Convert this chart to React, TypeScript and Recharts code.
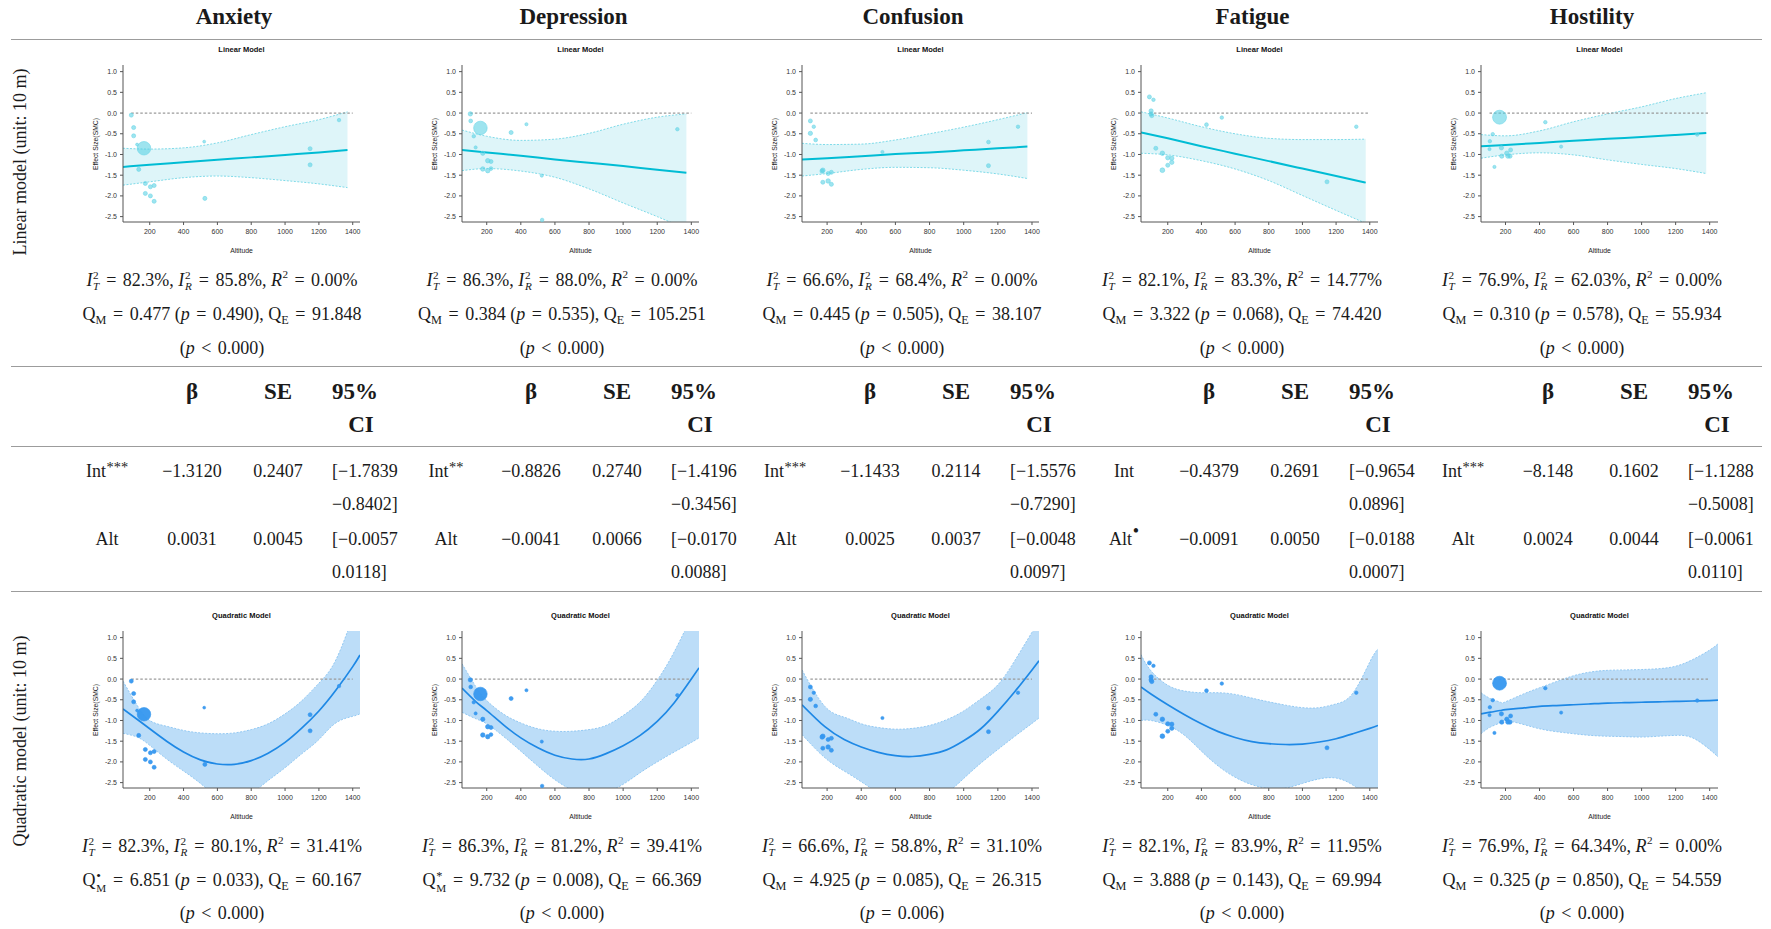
import React from 'react';
import { ComposedChart, Area, Line, Scatter, XAxis, YAxis, ZAxis } from 'recharts';

// ---------- labels ----------
const OUTCOMES = ['Anxiety', 'Depression', 'Confusion', 'Fatigue', 'Hostility'];
const ROW_LABELS = ['Linear model (unit: 10 m)', 'Quadratic model (unit: 10 m)'];
const X_TICKS = [200, 400, 600, 800, 1000, 1200, 1400];
const Y_TICKS = [-2.5, -2, -1.5, -1, -0.5, 0, 0.5, 1];
const Y_DOMAIN = [-2.63, 1.16];
const X_DOMAINS = [[42, 1443], [55, 1445], [53, 1441], [41, 1449], [56, 1449]];
const ZERO_FROM = [91, 104, 102, 91, 106];
const ZERO_TO = [1400, 1400, 1400, 1400, 1400];

// ---------- study points (altitude, effect size, weight) ----------
const ANX_ALT = [91, 105, 105, 125, 166, 135, 174, 226, 204, 174, 204, 226, 522, 526, 1148, 1148, 1319];
const ANX_ES = [-0.05, -0.35, -0.55, -0.76, -0.85, -1.36, -1.7, -1.75, -1.78, -1.94, -2.0, -2.13, -0.69, -2.06, -0.86, -1.25, -0.17];
const ANX_W = [0.8, 0.8, 0.8, 0.4, 9, 0.8, 0.8, 0.8, 0.8, 0.8, 0.8, 0.8, 0.4, 0.8, 0.8, 0.8, 0.6];

const DEP_ALT = [104, 106, 124, 135, 163, 177, 177, 206, 225, 206, 225, 343, 433, 523, 525, 1318];
const DEP_ES = [-0.02, -0.19, -0.56, -0.83, -0.36, -0.97, -1.35, -1.15, -1.17, -1.39, -1.34, -0.47, -0.27, -1.51, -2.58, -0.39];
const DEP_W = [0.9, 0.7, 0.6, 0.5, 9, 0.9, 1.0, 1.0, 0.8, 1.0, 0.7, 0.8, 0.5, 0.5, 0.6, 0.6];

const CON_ALT = [102, 122, 102, 133, 524, 175, 171, 175, 206, 225, 206, 225, 1145, 1145, 1318];
const CON_ES = [-0.19, -0.33, -0.49, -0.65, -0.94, -1.38, -1.4, -1.67, -1.46, -1.43, -1.64, -1.72, -0.7, -1.27, -0.33];
const CON_W = [0.8, 0.6, 0.9, 0.7, 0.5, 1.0, 1.0, 0.8, 0.8, 0.8, 1.0, 0.8, 0.7, 0.8, 0.6];

const FAT_ALT = [91, 115, 101, 101, 105, 129, 168, 168, 200, 224, 200, 224, 430, 521, 1146, 1320];
const FAT_ES = [0.39, 0.32, 0.05, -0.02, -0.06, -0.85, -0.97, -1.38, -1.08, -1.09, -1.26, -1.19, -0.28, -0.11, -1.66, -0.33];
const FAT_W = [0.8, 0.6, 0.9, 0.9, 0.9, 0.8, 1.0, 1.1, 0.9, 0.9, 0.8, 0.9, 0.7, 0.6, 0.8, 0.6];

const HOS_ALT = [165, 125, 108, 106, 135, 176, 178, 208, 214, 230, 226, 434, 527, 1327];
const HOS_ES = [-0.1, -0.51, -0.68, -0.87, -1.3, -0.84, -1.04, -0.97, -1.04, -0.89, -1.04, -0.22, -0.81, -0.52];
const HOS_W = [9.5, 0.6, 0.6, 0.5, 0.5, 0.9, 0.9, 1.0, 0.9, 0.8, 0.9, 0.6, 0.5, 0.6];

// ---------- linear model fit + CI band ----------
const ANX_LIN_X = [42, 200, 400, 600, 800, 1000, 1200, 1369];
const ANX_LIN_FIT = [-1.3, -1.25, -1.19, -1.13, -1.07, -1.01, -0.95, -0.89];
const ANX_LIN_LO = [-1.74, -1.66, -1.56, -1.52, -1.56, -1.63, -1.71, -1.8];
const ANX_LIN_HI = [-0.85, -0.87, -0.84, -0.72, -0.52, -0.33, -0.16, 0.03];

const DEP_LIN_X = [55, 200, 400, 600, 800, 1000, 1200, 1371];
const DEP_LIN_FIT = [-0.89, -0.95, -1.03, -1.12, -1.2, -1.28, -1.37, -1.44];
const DEP_LIN_LO = [-1.39, -1.34, -1.4, -1.55, -1.83, -2.17, -2.5, -2.8];
const DEP_LIN_HI = [-0.41, -0.56, -0.66, -0.63, -0.49, -0.27, -0.1, -0.02];

const CON_LIN_X = [53, 200, 400, 600, 800, 1000, 1200, 1373];
const CON_LIN_FIT = [-1.12, -1.09, -1.04, -0.99, -0.95, -0.9, -0.85, -0.81];
const CON_LIN_LO = [-1.52, -1.46, -1.36, -1.31, -1.32, -1.38, -1.47, -1.58];
const CON_LIN_HI = [-0.73, -0.76, -0.75, -0.65, -0.5, -0.34, -0.16, 0.01];

const FAT_LIN_X = [41, 200, 400, 600, 800, 1000, 1200, 1376];
const FAT_LIN_FIT = [-0.47, -0.61, -0.8, -0.98, -1.16, -1.34, -1.52, -1.68];
const FAT_LIN_LO = [-0.97, -1.01, -1.15, -1.35, -1.63, -1.99, -2.35, -2.66];
const FAT_LIN_HI = [0.03, -0.12, -0.33, -0.5, -0.61, -0.64, -0.64, -0.63];

const HOS_LIN_X = [56, 200, 400, 600, 800, 1000, 1200, 1380];
const HOS_LIN_FIT = [-0.8, -0.77, -0.72, -0.67, -0.62, -0.58, -0.53, -0.48];
const HOS_LIN_LO = [-1.09, -1.01, -0.96, -1.01, -1.13, -1.24, -1.34, -1.46];
const HOS_LIN_HI = [-0.52, -0.55, -0.43, -0.21, -0.02, 0.15, 0.35, 0.49];

// ---------- quadratic model fit + CI band ----------
const ANX_Q_X = [42, 125, 200, 300, 400, 500, 600, 700, 800, 900, 1000, 1100, 1200, 1300, 1400, 1443];
const ANX_Q_FIT = [-0.72, -0.97, -1.2, -1.5, -1.76, -1.95, -2.05, -2.06, -1.97, -1.79, -1.53, -1.18, -0.77, -0.27, 0.3, 0.58];
const ANX_Q_LO = [-1.31, -1.4, -1.6, -1.93, -2.22, -2.52, -2.85, -3.0, -2.78, -2.45, -2.14, -1.8, -1.46, -1.06, -0.9, -0.84];
const ANX_Q_HI = [-0.05, -0.63, -1.0, -1.14, -1.24, -1.3, -1.32, -1.3, -1.22, -1.08, -0.84, -0.52, -0.1, 0.46, 1.5, 2.0];

const DEP_Q_X = [55, 137, 200, 300, 400, 500, 600, 700, 800, 900, 1000, 1100, 1200, 1300, 1400, 1445];
const DEP_Q_FIT = [-0.22, -0.55, -0.76, -1.11, -1.42, -1.66, -1.84, -1.93, -1.93, -1.8, -1.61, -1.36, -1.02, -0.57, 0.0, 0.27];
const DEP_Q_LO = [-0.8, -0.96, -1.08, -1.39, -1.74, -2.1, -2.43, -2.68, -2.82, -2.74, -2.54, -2.26, -2.0, -1.76, -1.53, -1.42];
const DEP_Q_HI = [0.37, -0.19, -0.52, -0.85, -1.06, -1.2, -1.26, -1.26, -1.22, -1.12, -0.88, -0.55, -0.03, 0.66, 1.5, 1.9];

const CON_Q_X = [53, 187, 300, 400, 500, 600, 700, 800, 900, 1000, 1100, 1200, 1300, 1400, 1441];
const CON_Q_FIT = [-0.62, -1.15, -1.46, -1.64, -1.77, -1.85, -1.87, -1.82, -1.71, -1.49, -1.2, -0.78, -0.3, 0.22, 0.44];
const CON_Q_LO = [-1.34, -1.9, -2.22, -2.48, -2.75, -2.98, -3.05, -2.95, -2.75, -2.4, -2.03, -1.7, -1.38, -1.07, -0.94];
const CON_Q_HI = [0.22, -0.66, -0.92, -1.08, -1.17, -1.21, -1.19, -1.12, -0.98, -0.77, -0.48, -0.14, 0.45, 1.13, 1.4];

const FAT_Q_X = [41, 100, 200, 300, 400, 500, 600, 700, 800, 900, 1000, 1100, 1200, 1300, 1400, 1449];
const FAT_Q_FIT = [-0.19, -0.36, -0.62, -0.86, -1.08, -1.27, -1.41, -1.51, -1.56, -1.58, -1.57, -1.52, -1.44, -1.32, -1.19, -1.12];
const FAT_Q_LO = [-1.0, -1.0, -1.12, -1.36, -1.74, -2.1, -2.37, -2.55, -2.64, -2.63, -2.52, -2.41, -2.39, -2.56, -2.85, -2.97];
const FAT_Q_HI = [0.59, 0.2, -0.15, -0.29, -0.33, -0.33, -0.37, -0.46, -0.55, -0.63, -0.69, -0.69, -0.6, -0.34, 0.41, 0.73];

const HOS_Q_X = [56, 111, 170, 200, 300, 400, 500, 600, 700, 800, 900, 1000, 1100, 1200, 1300, 1400, 1449];
const HOS_Q_FIT = [-0.84, -0.8, -0.76, -0.74, -0.7, -0.66, -0.64, -0.62, -0.6, -0.58, -0.57, -0.56, -0.55, -0.54, -0.53, -0.52, -0.51];
const HOS_Q_LO = [-1.32, -1.16, -1.05, -1.0, -1.09, -1.2, -1.27, -1.32, -1.36, -1.38, -1.39, -1.4, -1.38, -1.36, -1.42, -1.7, -1.88];
const HOS_Q_HI = [-0.33, -0.47, -0.56, -0.55, -0.37, -0.21, -0.06, 0.08, 0.17, 0.21, 0.22, 0.23, 0.25, 0.31, 0.47, 0.7, 0.85];

// ---------- statistics text ----------
const LIN_I2T = ['82.3%', '86.3%', '66.6%', '82.1%', '76.9%'];
const LIN_I2R = ['85.8%', '88.0%', '68.4%', '83.3%', '62.03%'];
const LIN_R2 = ['0.00%', '0.00%', '0.00%', '14.77%', '0.00%'];
const LIN_QM = ['0.477', '0.384', '0.445', '3.322', '0.310'];
const LIN_QM_P = ['0.490', '0.535', '0.505', '0.068', '0.578'];
const LIN_QM_MARK = ['', '', '', '', ''];
const LIN_QE = ['91.848', '105.251', '38.107', '74.420', '55.934'];
const LIN_QE_OP = ['<', '<', '<', '<', '<'];
const LIN_QE_P = ['0.000', '0.000', '0.000', '0.000', '0.000'];

const QUAD_I2T = ['82.3%', '86.3%', '66.6%', '82.1%', '76.9%'];
const QUAD_I2R = ['80.1%', '81.2%', '58.8%', '83.9%', '64.34%'];
const QUAD_R2 = ['31.41%', '39.41%', '31.10%', '11.95%', '0.00%'];
const QUAD_QM = ['6.851', '9.732', '4.925', '3.888', '0.325'];
const QUAD_QM_P = ['0.033', '0.008', '0.085', '0.143', '0.850'];
const QUAD_QM_MARK = ['•', '*', '', '', ''];
const QUAD_QE = ['60.167', '66.369', '26.315', '69.994', '54.559'];
const QUAD_QE_OP = ['<', '<', '=', '<', '<'];
const QUAD_QE_P = ['0.000', '0.000', '0.006', '0.000', '0.000'];

// ---------- coefficient table ----------
const TABLE_HEAD = ['β', 'SE', '95%', 'CI'];
const INT_MARK = ['***', '**', '***', '', '***'];
const ALT_MARK = ['', '', '', '•', ''];
const INT_B = ['−1.3120', '−0.8826', '−1.1433', '−0.4379', '−8.148'];
const INT_SE = ['0.2407', '0.2740', '0.2114', '0.2691', '0.1602'];
const INT_LO = ['[−1.7839', '[−1.4196', '[−1.5576', '[−0.9654', '[−1.1288'];
const INT_HI = ['−0.8402]', '−0.3456]', '−0.7290]', '0.0896]', '−0.5008]'];
const ALT_B = ['0.0031', '−0.0041', '0.0025', '−0.0091', '0.0024'];
const ALT_SE = ['0.0045', '0.0066', '0.0037', '0.0050', '0.0044'];
const ALT_LO = ['[−0.0057', '[−0.0170', '[−0.0048', '[−0.0188', '[−0.0061'];
const ALT_HI = ['0.0118]', '0.0088]', '0.0097]', '0.0007]', '0.0110]'];

// ---------- assembled per-outcome groups ----------
const POINTS = [
  [ANX_ALT, ANX_ES, ANX_W],
  [DEP_ALT, DEP_ES, DEP_W],
  [CON_ALT, CON_ES, CON_W],
  [FAT_ALT, FAT_ES, FAT_W],
  [HOS_ALT, HOS_ES, HOS_W],
];
const LIN_FITS = [
  [ANX_LIN_X, ANX_LIN_FIT, ANX_LIN_LO, ANX_LIN_HI],
  [DEP_LIN_X, DEP_LIN_FIT, DEP_LIN_LO, DEP_LIN_HI],
  [CON_LIN_X, CON_LIN_FIT, CON_LIN_LO, CON_LIN_HI],
  [FAT_LIN_X, FAT_LIN_FIT, FAT_LIN_LO, FAT_LIN_HI],
  [HOS_LIN_X, HOS_LIN_FIT, HOS_LIN_LO, HOS_LIN_HI],
];
const QUAD_FITS = [
  [ANX_Q_X, ANX_Q_FIT, ANX_Q_LO, ANX_Q_HI],
  [DEP_Q_X, DEP_Q_FIT, DEP_Q_LO, DEP_Q_HI],
  [CON_Q_X, CON_Q_FIT, CON_Q_LO, CON_Q_HI],
  [FAT_Q_X, FAT_Q_FIT, FAT_Q_LO, FAT_Q_HI],
  [HOS_Q_X, HOS_Q_FIT, HOS_Q_LO, HOS_Q_HI],
];

// ---------- layout ----------
const PLOT_W = 237;
const PLOT_H = 157;
const PANEL_X0 = 123;
const PANEL_DX = 339.4;
const LIN_TOP = 65;
const QUAD_TOP = 631;
const SANS = '"Liberation Sans", Arial, sans-serif';
const SERIF = '"Liberation Serif", "Times New Roman", serif';

const THEMES = {
  lin: {
    band: '#def5f9', bandEdge: '#7fdbe9', line: '#00bcd4', lineW: 2, curve: 'monotone',
    pt: '#4fcde2', ptOpacity: 0.55, ptStroke: '#6fd6e8', title: 'Linear Model',
  },
  quad: {
    band: '#bcddf8', bandEdge: '#93c9f3', line: '#1e88e5', lineW: 1.7, curve: 'natural',
    pt: '#3597ef', ptOpacity: 0.95, ptStroke: '#3597ef', title: 'Quadratic Model',
  },
};

function Panel({ idx, kind }: { idx: number; kind: 'lin' | 'quad' }) {
  const th = THEMES[kind];
  const [xs, fit, lo, hi] = kind === 'lin' ? LIN_FITS[idx] : QUAD_FITS[idx];
  const [alt, es, w] = POINTS[idx];
  const rows = xs.map((x, k) => ({ x, fit: fit[k], band: [lo[k], hi[k]] }));
  const pts = alt.map((x, k) => ({ x, y: es[k], w: w[k] }));
  const zero = [
    { x: ZERO_FROM[idx], z0: 0 },
    { x: ZERO_TO[idx], z0: 0 },
  ];
  const plotLeft = Math.round(PANEL_X0 + PANEL_DX * idx);
  const plotTop = kind === 'lin' ? LIN_TOP : QUAD_TOP;
  const cx = plotLeft + PLOT_W / 2;
  const tickStyle = { fontSize: 7, fill: '#333', fontFamily: SANS };
  return (
    <>
      <div style={{ position: 'absolute', left: cx - 60, width: 120, top: plotTop - 21, height: 12, lineHeight: '12px', textAlign: 'center', fontFamily: SANS, fontSize: 7.5, fontWeight: 700, color: '#111' }}>
        {th.title}
      </div>
      <div style={{ position: 'absolute', left: plotLeft - 28, top: plotTop + PLOT_H / 2, transform: 'translate(-50%,-50%) rotate(-90deg)', whiteSpace: 'nowrap', fontFamily: SANS, fontSize: 6.8, color: '#222' }}>
        Effect Size(SMC)
      </div>
      <div style={{ position: 'absolute', left: cx - 40, width: 80, top: plotTop + PLOT_H + 23, height: 12, lineHeight: '12px', textAlign: 'center', fontFamily: SANS, fontSize: 6.8, color: '#222' }}>
        Altitude
      </div>
      <div style={{ position: 'absolute', left: plotLeft - 40, top: plotTop - 5 }}>
        <ComposedChart width={282} height={182} margin={{ top: 5, right: 5, left: 10, bottom: 0 }} data={rows}>
          <XAxis type="number" dataKey="x" domain={X_DOMAINS[idx]} ticks={X_TICKS} interval={0} allowDataOverflow
            height={20} tickSize={3} tickMargin={4} tick={tickStyle} stroke="#555" tickLine={{ stroke: '#555' }} />
          <YAxis type="number" domain={Y_DOMAIN} ticks={Y_TICKS} interval={0} allowDataOverflow width={30}
            tickSize={3} tickMargin={3} tick={tickStyle} stroke="#555" tickFormatter={(v: number) => v.toFixed(1)} />
          <ZAxis type="number" dataKey="w" domain={[0, 10]} range={[0, 160]} />
          <Area dataKey="band" type={th.curve as any} fill={th.band} fillOpacity={1} stroke={th.bandEdge}
            strokeWidth={1} strokeDasharray="2 1.5" isAnimationActive={false} dot={false} activeDot={false} />
          <Line data={zero} dataKey="z0" type="linear" stroke="#9a9a9a" strokeWidth={1.2} strokeDasharray="2.5 2"
            dot={false} activeDot={false} isAnimationActive={false} />
          <Line dataKey="fit" type={th.curve as any} stroke={th.line} strokeWidth={th.lineW} dot={false} activeDot={false}
            isAnimationActive={false} />
          <Scatter data={pts} dataKey="y" fill={th.pt} fillOpacity={th.ptOpacity} stroke={th.ptStroke}
            strokeWidth={0.6} isAnimationActive={false} />
        </ComposedChart>
      </div>
    </>
  );
}

// ---------- text helpers ----------
const Stack = ({ sup, sub, subItalic, supSize }: { sup: string; sub: string; subItalic?: boolean; supSize?: string }) => (
  <span style={{ display: 'inline-flex', flexDirection: 'column', fontSize: '0.62em', lineHeight: 1, verticalAlign: supSize ? '0.5em' : '0.62em', marginLeft: '0.06em', marginRight: '0.04em', textAlign: 'left' }}>
    <span style={{ fontStyle: 'normal', fontSize: supSize || '1em', lineHeight: 1 }}>{sup}</span>
    <span style={{ fontStyle: subItalic ? 'italic' : 'normal' }}>{sub}</span>
  </span>
);
const Sup = ({ children, size, top }: { children: React.ReactNode; size?: string; top?: string }) => (
  <span style={{ fontSize: size || '0.62em', position: 'relative', top: top || '-0.72em', marginLeft: '0.04em' }}>{children}</span>
);
const Sub = ({ children }: { children: React.ReactNode }) => (
  <span style={{ fontSize: '0.68em', position: 'relative', top: '0.32em' }}>{children}</span>
);
const Op = ({ children }: { children: React.ReactNode }) => (
  <span style={{ margin: '0 2px' }}>{children}</span>
);

const Txt = ({ cx, cy, children, style }: { cx: number; cy: number; children: React.ReactNode; style?: React.CSSProperties }) => (
  <div style={{ position: 'absolute', left: cx - 250, width: 500, top: cy - 15, height: 30, lineHeight: '30px', textAlign: 'center', whiteSpace: 'nowrap', fontSize: 18, ...style }}>
    {children}
  </div>
);
const LTxt = ({ x, cy, children, style }: { x: number; cy: number; children: React.ReactNode; style?: React.CSSProperties }) => (
  <div style={{ position: 'absolute', left: x, top: cy - 15, height: 30, lineHeight: '30px', whiteSpace: 'nowrap', fontSize: 18, ...style }}>
    {children}
  </div>
);

function StatLines({ idx, kind }: { idx: number; kind: 'lin' | 'quad' }) {
  const L = kind === 'lin';
  const cx = 222 + 340 * idx;
  const ys = L ? [280, 314, 348] : [846, 880, 913];
  const i2t = (L ? LIN_I2T : QUAD_I2T)[idx];
  const i2r = (L ? LIN_I2R : QUAD_I2R)[idx];
  const r2 = (L ? LIN_R2 : QUAD_R2)[idx];
  const qm = (L ? LIN_QM : QUAD_QM)[idx];
  const qmp = (L ? LIN_QM_P : QUAD_QM_P)[idx];
  const mark = (L ? LIN_QM_MARK : QUAD_QM_MARK)[idx];
  const qe = (L ? LIN_QE : QUAD_QE)[idx];
  const qeop = (L ? LIN_QE_OP : QUAD_QE_OP)[idx];
  const qep = (L ? LIN_QE_P : QUAD_QE_P)[idx];
  return (
    <>
      <Txt cx={cx} cy={ys[0]}>
        <i>I</i><Stack sup="2" sub="T" subItalic /> <Op>=</Op> {i2t}, <i>I</i><Stack sup="2" sub="R" subItalic /> <Op>=</Op> {i2r}, <i>R</i><Sup>2</Sup> <Op>=</Op> {r2}
      </Txt>
      <Txt cx={cx} cy={ys[1]}>
        Q{mark ? <Stack sup={mark} sub="M" supSize={mark === '•' ? '1.2em' : '1.1em'} /> : <Sub>M</Sub>} <Op>=</Op> {qm} (<i>p</i> <Op>=</Op> {qmp}), Q<Sub>E</Sub> <Op>=</Op> {qe}
      </Txt>
      <Txt cx={cx} cy={ys[2]}>
        (<i>p</i> <Op>{qeop}</Op> {qep})
      </Txt>
    </>
  );
}

function TableCol({ idx }: { idx: number }) {
  const dx = 339 * idx;
  const labelCx = 107 + dx;
  const bCx = 192 + dx;
  const seCx = 278 + dx;
  const ciX = 332 + dx;
  const head: React.CSSProperties = { fontSize: 23, fontWeight: 700 };
  return (
    <>
      <Txt cx={bCx} cy={392} style={head}>{TABLE_HEAD[0]}</Txt>
      <Txt cx={seCx} cy={392} style={head}>{TABLE_HEAD[1]}</Txt>
      <LTxt x={ciX} cy={392} style={head}>{TABLE_HEAD[2]}</LTxt>
      <Txt cx={ciX + 29} cy={425} style={head}>{TABLE_HEAD[3]}</Txt>

      <Txt cx={labelCx} cy={471}>Int{INT_MARK[idx] ? <Sup size="0.8em" top="-0.38em">{INT_MARK[idx]}</Sup> : null}</Txt>
      <Txt cx={bCx} cy={471}>{INT_B[idx]}</Txt>
      <Txt cx={seCx} cy={471}>{INT_SE[idx]}</Txt>
      <LTxt x={ciX} cy={471}>{INT_LO[idx]}</LTxt>
      <LTxt x={ciX} cy={504}>{INT_HI[idx]}</LTxt>

      <Txt cx={labelCx} cy={539}>Alt{ALT_MARK[idx] ? <Sup size="1em" top="-0.45em">{ALT_MARK[idx]}</Sup> : null}</Txt>
      <Txt cx={bCx} cy={539}>{ALT_B[idx]}</Txt>
      <Txt cx={seCx} cy={539}>{ALT_SE[idx]}</Txt>
      <LTxt x={ciX} cy={539}>{ALT_LO[idx]}</LTxt>
      <LTxt x={ciX} cy={572}>{ALT_HI[idx]}</LTxt>
    </>
  );
}

const HLine = ({ y }: { y: number }) => (
  <div style={{ position: 'absolute', left: 11, width: 1751, top: y, height: 1.3, background: '#9c9c9c' }} />
);

export default function App() {
  return (
    <div style={{ position: 'absolute', left: 0, top: 0, width: 1771, height: 929, background: '#fff', fontFamily: SERIF, color: '#1a1a1a', overflow: 'hidden' }}>
      {OUTCOMES.map((name, i) => (
        <Txt key={name} cx={234 + 339.5 * i} cy={17} style={{ fontSize: 23, fontWeight: 700 }}>{name}</Txt>
      ))}
      <HLine y={39} />
      <HLine y={366} />
      <HLine y={446} />
      <HLine y={591} />

      <div style={{ position: 'absolute', left: 20, top: 162, transform: 'translate(-50%,-50%) rotate(-90deg)', whiteSpace: 'nowrap', fontSize: 18 }}>
        {ROW_LABELS[0]}
      </div>
      <div style={{ position: 'absolute', left: 20, top: 741, transform: 'translate(-50%,-50%) rotate(-90deg)', whiteSpace: 'nowrap', fontSize: 18 }}>
        {ROW_LABELS[1]}
      </div>

      {OUTCOMES.map((name, i) => (
        <React.Fragment key={'p' + name}>
          <Panel idx={i} kind="lin" />
          <StatLines idx={i} kind="lin" />
          <TableCol idx={i} />
          <Panel idx={i} kind="quad" />
          <StatLines idx={i} kind="quad" />
        </React.Fragment>
      ))}
    </div>
  );
}
